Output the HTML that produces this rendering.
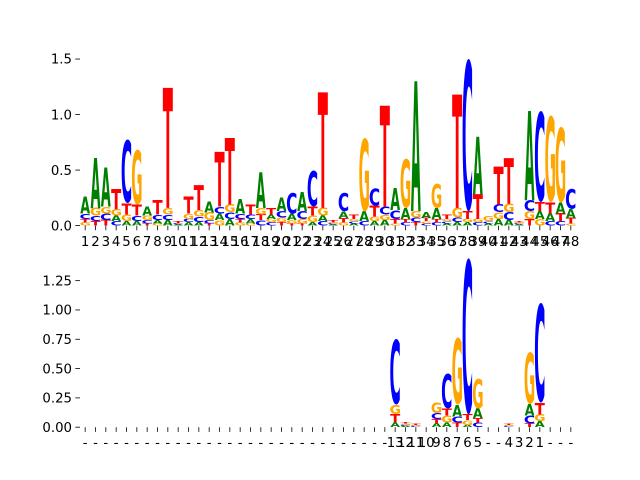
<!DOCTYPE html>
<html><head><meta charset="utf-8"><style>
body{margin:0;background:#fff}
svg{display:block;font-family:"DejaVu Sans","Liberation Sans",sans-serif}
.tk{font-size:13.3px;fill:#000}
</style></head><body>
<svg id="chart" width="640" height="480" viewBox="0 0 640 480"></svg>
<script>
// Top panel data (positions 1..48)
const topLabels = Array.from({length:48},(_,i)=>String(i+1));
const topA=[.15,.45,.35,.05,.04,.04,.08,.03,.05,.01,.03,.03,.10,.06,.06,.13,.04,.32,.04,.12,.06,.17,.03,.05,.01,.06,.02,.09,.04,.05,.20,.10,1.17,.05,.10,.02,.03,.03,.52,.02,.06,.05,.01,.80,.07,.07,.10,.08];
const topC=[.05,.05,.06,.04,.57,.05,.03,.05,.05,.01,.03,.05,.03,.06,.06,.05,.04,.05,.03,.06,.19,.07,.32,.04,.01,.17,.02,.04,.16,.07,.08,.03,.04,.02,.03,.02,.04,1.37,.03,.02,.07,.07,.01,.10,.82,.04,.04,.18];
const topG=[.03,.07,.06,.06,.06,.49,.04,.02,.06,.00,.05,.06,.07,.05,.07,.03,.02,.06,.03,.04,.03,.04,.06,.07,.01,.03,.02,.66,.04,.05,.02,.44,.06,.02,.22,.02,.09,.03,.03,.05,.06,.08,.01,.07,.06,.78,.68,.02];
const topT=[.03,.04,.05,.18,.10,.10,.02,.13,1.08,.02,.15,.22,.02,.49,.60,.03,.09,.05,.06,.03,.02,.02,.08,1.04,.02,.04,.04,.00,.10,.91,.04,.03,.03,.03,.03,.04,1.02,.07,.22,.00,.34,.41,.01,.06,.08,.10,.07,.05];
const topTicks=[0,0.5,1.0,1.5];
const topTickLabels=["0.0","0.5","1.0","1.5"];
// Bottom panel data (48 positions)
const botLabels=Array(30).fill("-").concat(["13","12","11","10","9","8","7","6","5","-","-","4","3","2","1","-","-","-"]);
const botA=Array(30).fill(0).concat([.04,.01,0,0,.03,.04,.10,.02,.08,0,0,0,0,.10,.05,0,0,0]);
const botC=Array(30).fill(0).concat([.56,.01,.01,0,.05,.30,.05,1.33,.04,0,0,.01,0,.07,.85,0,0,0]);
const botG=Array(30).fill(0).concat([.08,.01,.01,0,.09,.06,.57,.04,.25,0,0,.01,0,.44,.06,0,0,0]);
const botT=Array(30).fill(0).concat([.07,.01,.01,0,.04,.06,.04,.05,.04,0,0,.01,0,.03,.10,0,0,0]);
const botTicks=[0,0.25,0.5,0.75,1.0,1.25];
const botTickLabels=["0.00","0.25","0.50","0.75","1.00","1.25"];

const NS="http://www.w3.org/2000/svg";
const svg=document.getElementById('chart');
const COL={A:'#008000',C:'#0000ff',G:'#ffa500',T:'#ff0000'};
// ink metrics (em): left, right, descent, total height
const INK={A:[0.0,0.774,0,0.729],C:[0.05,0.69,0.014,0.756],G:[0.05,0.76,0.014,0.756],T:[0.01,0.672,0,0.729]};
function el(tag,attrs,parent){const e=document.createElementNS(NS,tag);for(const k in attrs)e.setAttribute(k,attrs[k]);(parent||svg).appendChild(e);return e;}

function panel(name,y0,yMax,labels,A,C,G,T,ticks,tickLabels,labelY){
  const x0=80,x1=576,h=168,n=labels.length;
  const xs=i=>x0+(i+0.5)*(x1-x0)/n;
  const ys=v=>y0+h-v*h/yMax;
  const cw=(x1-x0)/n*0.95;
  const g=el('g',{});
  
  
  for(let i=0;i<n;i++){
    const items=[['A',A[i]],['C',C[i]],['G',G[i]],['T',T[i]]].filter(d=>d[1]>0).sort((a,b)=>a[1]-b[1]);
    let base=0;
    for(const [L,v] of items){
      const yb=ys(base), yt=ys(base+v), hh=yb-yt;
      const m=INK[L];
      const sx=cw/((m[1]-m[0])*100), sy=hh/(m[3]*100);
      const gg=el('g',{transform:`translate(${xs(i)-cw/2},${yb}) scale(${sx},${sy})`},g);
      const t=el('text',{x:-m[0]*100,y:-m[2]*100,'font-size':100,'font-weight':'bold',fill:COL[L]},gg);
      
      
      t.textContent=L;
      base+=v;
    }
    // x tick
    el('line',{x1:xs(i),x2:xs(i),y1:y0+h,y2:y0+h+4.7,stroke:'#000','stroke-width':0.8},g);
    const tl=el('text',{x:xs(i),y:labelY,'text-anchor':'middle',class:'tk'},g);
    
    
    tl.textContent=labels[i];
  }
  ticks.forEach((v,k)=>{
    el('line',{x1:75.3,x2:80,y1:ys(v),y2:ys(v),stroke:'#000','stroke-width':0.8},g);
    const t=el('text',{x:72,y:ys(v)+4.7,'text-anchor':'end',class:'tk'},g);
    
    
    t.textContent=tickLabels[k];
  });
}
panel('top-logo-panel',57.6,1.513,topLabels,topA,topC,topG,topT,topTicks,topTickLabels,246);
panel('bottom-logo-panel',259.2,1.433,botLabels,botA,botC,botG,botT,botTicks,botTickLabels,447);
</script>
</body></html>
